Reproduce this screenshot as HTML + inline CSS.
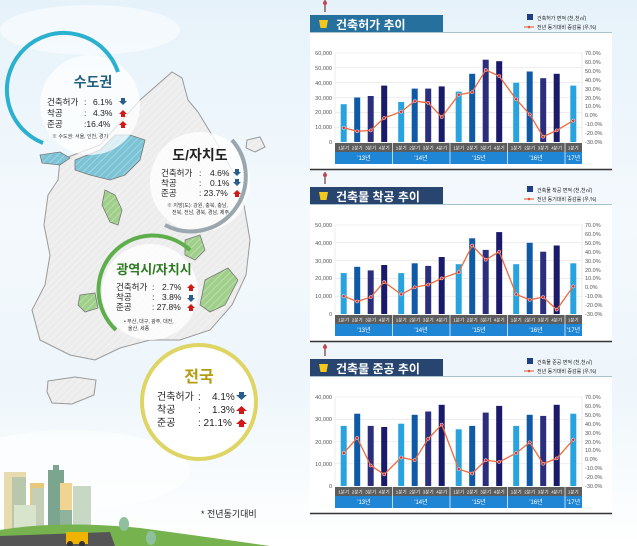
<!DOCTYPE html>
<html><head><meta charset="utf-8"><style>
*{margin:0;padding:0}
body{width:637px;height:546px;overflow:hidden;position:relative;background:linear-gradient(180deg,#e6f2fa 0%,#f4f9fd 40%,#eef6fb 70%,#ffffff 100%);font-family:"Liberation Sans","Noto Sans CJK KR",sans-serif}
svg{position:absolute}
text{font-family:"Liberation Sans","Noto Sans CJK KR",sans-serif}
</style></head><body>

<svg width="310" height="546" viewBox="0 0 310 546" style="left:0;top:0">
<defs>
<pattern id="hb" width="5" height="5" patternUnits="userSpaceOnUse" patternTransform="rotate(45)"><rect width="5" height="5" fill="#7cc3d6"/><line x1="0" y1="0" x2="0" y2="5" stroke="#a9dbe8" stroke-width="1.5"/></pattern>
<pattern id="hg" width="5" height="5" patternUnits="userSpaceOnUse" patternTransform="rotate(45)"><rect width="5" height="5" fill="#9fcf8a"/><line x1="0" y1="0" x2="0" y2="5" stroke="#c5e4b6" stroke-width="1.5"/></pattern>
<pattern id="hw" width="5" height="5" patternUnits="userSpaceOnUse" patternTransform="rotate(45)"><rect width="5" height="5" fill="#ececec"/><line x1="0" y1="0" x2="0" y2="5" stroke="#f6f6f6" stroke-width="1.5"/></pattern>
</defs>
<ellipse cx="90" cy="30" rx="90" ry="25" fill="#fff" opacity=".5"/>
<ellipse cx="70" cy="470" rx="120" ry="40" fill="#fff" opacity=".6"/>
<path d="M60,160 L100,145 L140,100 L172,72 L182,78 L188,100 L198,112 L215,140 L232,170 L244,205 L250,240 L246,275 L232,305 L210,330 L180,340 L150,340 L120,348 L95,360 L70,355 L40,340 L32,310 L45,285 L50,255 L44,225 L48,195 L58,180 Z" fill="url(#hw)" stroke="#999" stroke-width="1"/>
<path d="M75,160 L100,150 L115,135 L130,135 L145,140 L140,160 L125,175 L110,180 L90,175 L75,170 Z" fill="url(#hb)" stroke="#777" stroke-width=".8"/>
<path d="M40,155 L60,152 L70,158 L60,165 L42,163 Z" fill="url(#hb)" stroke="#777" stroke-width=".8"/>
<path d="M105,190 L115,195 L122,210 L118,225 L110,222 L102,205 Z" fill="url(#hg)" stroke="#777" stroke-width=".8"/>
<path d="M185,240 L200,235 L205,250 L195,260 L185,255 Z" fill="url(#hg)" stroke="#777" stroke-width=".8"/>
<path d="M80,295 L95,293 L98,308 L85,312 L78,305 Z" fill="url(#hg)" stroke="#777" stroke-width=".8"/>
<path d="M205,280 L228,268 L238,280 L225,305 L210,312 L200,305 Z" fill="url(#hg)" stroke="#777" stroke-width=".8"/>
<path d="M48,381 L75,377 L96,380 L94,395 L72,404 L52,403 L47,392 Z" fill="url(#hw)" stroke="#999"/>
<path d="M247,140 L260,137 L265,147 L255,152 L246,148 Z" fill="url(#hw)" stroke="#999"/>

<circle cx="90" cy="105" r="50" fill="#fff" opacity=".72"/>
<path d="M43,143 A57,57 0 1 1 118,72" fill="none" stroke="#2cb0cf" stroke-width="4"/>
<text x="93" y="87" font-size="14" font-weight="bold" fill="#23607e" text-anchor="middle">수도권</text>
<g font-size="8.5" fill="#222">
<text x="47" y="105">건축허가</text><text x="84" y="105">:</text><text x="93" y="105">6.1%</text>
<text x="47" y="116">착공</text><text x="84" y="116">:</text><text x="93" y="116">4.3%</text>
<text x="47" y="127">준공</text><text x="84" y="127">:16.4%</text>
</g>
<text x="52" y="138" font-size="5" fill="#333">※ 수도권: 서울, 인천, 경기</text>
<path d="M121,98 h4 v3 h2 l-4,4 l-4,-4 h2z" fill="#2a5d8c"/>
<path d="M121,117 h4 v-3 h2 l-4,-4 l-4,4 h2z" fill="#d01818"/>
<path d="M121,128 h4 v-3 h2 l-4,-4 l-4,4 h2z" fill="#d01818"/>

<circle cx="200" cy="182" r="50" fill="#fff" opacity=".8"/>
<path d="M232,140 A55,55 0 0 1 165,225" fill="none" stroke="#9aa7ae" stroke-width="4"/>
<text x="200" y="160" font-size="14" font-weight="bold" fill="#222" text-anchor="middle">도/자치도</text>
<g font-size="8.5" fill="#222">
<text x="161" y="176">건축허가</text><text x="199" y="176">:</text><text x="210" y="176">4.6%</text>
<text x="161" y="186">착공</text><text x="199" y="186">:</text><text x="210" y="186">0.1%</text>
<text x="161" y="196">준공</text><text x="199" y="196">: 23.7%</text>
</g>
<text x="167" y="207" font-size="5" fill="#333">※ 지방(도): 강원, 충북, 충남,</text>
<text x="172" y="214" font-size="5" fill="#333">전북, 전남, 경북, 경남, 제주</text>
<path d="M235,169 h4 v3 h2 l-4,4 l-4,-4 h2z" fill="#2a5d8c"/>
<path d="M235,179 h4 v3 h2 l-4,4 l-4,-4 h2z" fill="#2a5d8c"/>
<path d="M235,197 h4 v-3 h2 l-4,-4 l-4,4 h2z" fill="#d01818"/>

<circle cx="150" cy="292" r="48" fill="#fff" opacity=".8"/>
<path d="M116,330 A52,52 0 0 1 190,250" fill="none" stroke="#5fae4c" stroke-width="4"/>
<text x="154" y="274" font-size="13" font-weight="bold" fill="#2d7a22" text-anchor="middle">광역시/자치시</text>
<g font-size="8.5" fill="#222">
<text x="116" y="290">건축허가</text><text x="152" y="290">:</text><text x="162" y="290">2.7%</text>
<text x="116" y="300">착공</text><text x="152" y="300">:</text><text x="162" y="300">3.8%</text>
<text x="116" y="310">준공</text><text x="152" y="310">: 27.8%</text>
</g>
<text x="124" y="323" font-size="5" fill="#333">• 부산, 대구, 광주, 대전,</text>
<text x="128" y="330" font-size="5" fill="#333">울산, 세종</text>
<path d="M189,291 h4 v-3 h2 l-4,-4 l-4,4 h2z" fill="#d01818"/>
<path d="M189,295 h4 v3 h2 l-4,4 l-4,-4 h2z" fill="#2a5d8c"/>
<path d="M189,311 h4 v-3 h2 l-4,-4 l-4,4 h2z" fill="#d01818"/>

<circle cx="199" cy="402" r="57" fill="#fff" stroke="#ded564" stroke-width="4"/>
<text x="199" y="382" font-size="16" font-weight="bold" fill="#b59b12" text-anchor="middle">전국</text>
<g font-size="10" fill="#222">
<text x="157" y="400">건축허가</text><text x="198" y="400">:</text><text x="212" y="400">4.1%</text>
<text x="157" y="413">착공</text><text x="198" y="413">:</text><text x="212" y="413">1.3%</text>
<text x="157" y="426">준공</text><text x="198" y="426">: 21.1%</text>
</g>
<path d="M239,392 h5 v3 h3 l-5.5,5 l-5.5,-5 h3z" fill="#2a5d8c"/>
<path d="M239,414 h5 v-3 h3 l-5.5,-5 l-5.5,5 h3z" fill="#d01818"/>
<path d="M239,427 h5 v-3 h3 l-5.5,-5 l-5.5,5 h3z" fill="#d01818"/>

<text x="201" y="517" font-size="9" fill="#222">* 전년동기대비</text>

<rect x="4" y="472" width="22" height="60" fill="#e8dcae"/>
<rect x="12" y="477" width="14" height="55" fill="#b9c7ad"/>
<rect x="30" y="483" width="14" height="50" fill="#e6c97a"/>
<rect x="32" y="488" width="12" height="45" fill="#c5cfb8"/>
<rect x="48" y="470" width="16" height="63" fill="#7ca58f"/>
<rect x="53" y="465" width="6" height="6" fill="#7ca58f"/>
<rect x="60" y="483" width="12" height="50" fill="#f0d48f"/>
<rect x="73" y="486" width="18" height="46" fill="#c7d9c5"/>
<rect x="14" y="505" width="22" height="25" fill="#d9e4cd"/>
<rect x="60" y="510" width="12" height="22" fill="#8fb39b"/>
<path d="M0,546 L0,530 Q60,520 140,528 Q200,536 270,546 Z" fill="#76b24d"/>
<path d="M0,546 L0,536 L110,532 L115,546 Z" fill="#555"/>
<rect x="66" y="532" width="22" height="12" fill="#f0b400"/>
<circle cx="70" cy="544" r="3" fill="#333"/><circle cx="82" cy="544" r="3" fill="#333"/>
<ellipse cx="124" cy="524" rx="5" ry="7" fill="#8fbf9c"/>
<ellipse cx="151" cy="538" rx="5" ry="7" fill="#8fbf9c"/>
</svg>

<svg width="327" height="172" viewBox="0 0 327 172" style="left:310px;top:0">
<line x1="15" y1="0" x2="15" y2="12" stroke="#6a3b3b" stroke-width="1.2"/><circle cx="15" cy="3" r="2" fill="#c4474f"/>
<rect x="0" y="15" width="133" height="18" fill="#26709e"/>
<path d="M9,20 h9 l-1.5,8 h-6z" fill="#f3c81a"/>
<text x="26" y="29" font-size="12" font-weight="bold" fill="#fff">건축허가 추이</text>
<rect x="0" y="32" width="302" height="137" fill="#fff"/>
<line x1="0" y1="169.5" x2="302" y2="169.5" stroke="#333" stroke-width="1.5"/>
<line x1="0" y1="32.5" x2="302" y2="32.5" stroke="#a9c0d0" stroke-width="1"/>
<rect x="217" y="14" width="6" height="6" fill="#1c3f86"/><text x="227" y="20" font-size="5" fill="#222">건축허가 면적 (천,천㎡)</text>
<line x1="214" y1="27" x2="224" y2="27" stroke="#e8552c"/><circle cx="219" cy="27" r="1.3" fill="#e8552c"/><text x="227" y="29" font-size="5" fill="#222">전년 동기대비 증감률 (우,%)</text>
<g stroke="#e2e2e2" stroke-width=".6">
<line x1="25" y1="53" x2="272" y2="53"/><line x1="25" y1="67.8" x2="272" y2="67.8"/><line x1="25" y1="82.7" x2="272" y2="82.7"/><line x1="25" y1="97.5" x2="272" y2="97.5"/><line x1="25" y1="112.3" x2="272" y2="112.3"/><line x1="25" y1="127.2" x2="272" y2="127.2"/><line x1="25" y1="53" x2="25" y2="142"/><line x1="272" y1="53" x2="272" y2="142"/></g>
<g font-size="5.5" fill="#555" text-anchor="end">
<text x="22" y="55">60,000</text><text x="22" y="70">50,000</text><text x="22" y="85">40,000</text><text x="22" y="100">30,000</text><text x="22" y="114">20,000</text><text x="22" y="129">10,000</text><text x="22" y="144">0</text></g>
<g font-size="5.5" fill="#555">
<text x="275" y="55">70.0%</text><text x="275" y="64">60.0%</text><text x="275" y="73">50.0%</text><text x="275" y="82">40.0%</text><text x="275" y="91">30.0%</text><text x="275" y="100">20.0%</text><text x="275" y="108">10.0%</text><text x="275" y="117">0.0%</text><text x="275" y="126">-10.0%</text><text x="275" y="135">-20.0%</text><text x="275" y="144">-30.0%</text></g>
<g>
<rect x="30.7" y="104.2" width="6" height="37.8" fill="#29a3dd"/><rect x="44.2" y="97.5" width="6" height="44.5" fill="#0e5aa7"/><rect x="57.7" y="96" width="6" height="46" fill="#2a2e7c"/><rect x="71.2" y="85.6" width="6" height="56.4" fill="#1a1a6a"/>
<rect x="88.2" y="102" width="6" height="40" fill="#29a3dd"/><rect x="101.7" y="88.6" width="6" height="53.4" fill="#0e5aa7"/><rect x="115.2" y="88.6" width="6" height="53.4" fill="#2a2e7c"/><rect x="128.7" y="86.4" width="6" height="55.6" fill="#1a1a6a"/>
<rect x="145.7" y="91.6" width="6" height="50.4" fill="#29a3dd"/><rect x="159.2" y="73.8" width="6" height="68.2" fill="#0e5aa7"/><rect x="172.7" y="59.7" width="6" height="82.3" fill="#2a2e7c"/><rect x="186.2" y="61.2" width="6" height="80.8" fill="#1a1a6a"/>
<rect x="203.2" y="82.7" width="6" height="59.3" fill="#29a3dd"/><rect x="216.7" y="71.5" width="6" height="70.5" fill="#0e5aa7"/><rect x="230.2" y="78.2" width="6" height="63.8" fill="#2a2e7c"/><rect x="243.7" y="73.8" width="6" height="68.2" fill="#1a1a6a"/>
<rect x="260.3" y="85.6" width="6" height="56.4" fill="#29a3dd"/></g>
<polyline points="33.7,127.8 47.2,131.3 60.7,130.4 74.2,118 91.2,111.7 104.7,101.1 118.2,102.8 131.7,117.1 148.7,94.8 162.2,92.2 175.7,69.9 189.2,76.1 206.2,99.3 219.7,114.4 233.2,136.7 246.7,130.4 263.3,120.6" fill="none" stroke="#ef6a3a" stroke-width="1.3"/>
<g fill="#e02a2a" stroke="#fff" stroke-width=".5"><circle cx="33.7" cy="127.8" r="1.6"/><circle cx="47.2" cy="131.3" r="1.6"/><circle cx="60.7" cy="130.4" r="1.6"/><circle cx="74.2" cy="118" r="1.6"/><circle cx="91.2" cy="111.7" r="1.6"/><circle cx="104.7" cy="101.1" r="1.6"/><circle cx="118.2" cy="102.8" r="1.6"/><circle cx="131.7" cy="117.1" r="1.6"/><circle cx="148.7" cy="94.8" r="1.6"/><circle cx="162.2" cy="92.2" r="1.6"/><circle cx="175.7" cy="69.9" r="1.6"/><circle cx="189.2" cy="76.1" r="1.6"/><circle cx="206.2" cy="99.3" r="1.6"/><circle cx="219.7" cy="114.4" r="1.6"/><circle cx="233.2" cy="136.7" r="1.6"/><circle cx="246.7" cy="130.4" r="1.6"/><circle cx="263.3" cy="120.6" r="1.6"/></g>
<rect x="25" y="143" width="247" height="9" fill="#5d5d5d"/>
<rect x="25" y="152" width="247" height="12" fill="#1f86d6"/>
<g stroke="#fff" stroke-width=".7"><line x1="82.5" y1="143" x2="82.5" y2="164"/><line x1="140" y1="143" x2="140" y2="164"/><line x1="197.5" y1="143" x2="197.5" y2="164"/><line x1="255" y1="143" x2="255" y2="164"/></g>
<g font-size="4.5" fill="#fff" text-anchor="middle"><text x="33.7" y="149.5">1분기</text><text x="47.2" y="149.5">2분기</text><text x="60.7" y="149.5">3분기</text><text x="74.2" y="149.5">4분기</text><text x="91.2" y="149.5">1분기</text><text x="104.7" y="149.5">2분기</text><text x="118.2" y="149.5">3분기</text><text x="131.7" y="149.5">4분기</text><text x="148.7" y="149.5">1분기</text><text x="162.2" y="149.5">2분기</text><text x="175.7" y="149.5">3분기</text><text x="189.2" y="149.5">4분기</text><text x="206.2" y="149.5">1분기</text><text x="219.7" y="149.5">2분기</text><text x="233.2" y="149.5">3분기</text><text x="246.7" y="149.5">4분기</text><text x="263.3" y="149.5">1분기</text></g>
<g font-size="6" fill="#fff" text-anchor="middle"><text x="54" y="160">'13년</text><text x="111" y="160">'14년</text><text x="169" y="160">'15년</text><text x="226" y="160">'16년</text><text x="263.5" y="160">'17년</text></g>
</svg>

<svg width="327" height="172" viewBox="0 0 327 172" style="left:310px;top:172px">
<line x1="15" y1="0" x2="15" y2="12" stroke="#6a3b3b" stroke-width="1.2"/><circle cx="15" cy="3" r="2" fill="#c4474f"/>
<rect x="0" y="15" width="133" height="18" fill="#27456f"/>
<path d="M9,20 h9 l-1.5,8 h-6z" fill="#f3c81a"/>
<text x="26" y="29" font-size="12" font-weight="bold" fill="#fff">건축물 착공 추이</text>
<rect x="0" y="32" width="302" height="137" fill="#fff"/>
<line x1="0" y1="169.5" x2="302" y2="169.5" stroke="#333" stroke-width="1.5"/>
<line x1="0" y1="32.5" x2="302" y2="32.5" stroke="#a9c0d0" stroke-width="1"/>
<rect x="217" y="14" width="6" height="6" fill="#1c3f86"/><text x="227" y="20" font-size="5" fill="#222">건축물 착공 면적 (천,천㎡)</text>
<line x1="214" y1="27" x2="224" y2="27" stroke="#e8552c"/><circle cx="219" cy="27" r="1.3" fill="#e8552c"/><text x="227" y="29" font-size="5" fill="#222">전년 동기대비 증감률 (우,%)</text>
<g stroke="#e2e2e2" stroke-width=".6">
<line x1="25" y1="53" x2="272" y2="53"/><line x1="25" y1="70.8" x2="272" y2="70.8"/><line x1="25" y1="88.6" x2="272" y2="88.6"/><line x1="25" y1="106.4" x2="272" y2="106.4"/><line x1="25" y1="124.2" x2="272" y2="124.2"/><line x1="25" y1="53" x2="25" y2="142"/><line x1="272" y1="53" x2="272" y2="142"/></g>
<g font-size="5.5" fill="#555" text-anchor="end">
<text x="22" y="55">50,000</text><text x="22" y="73">40,000</text><text x="22" y="91">30,000</text><text x="22" y="108">20,000</text><text x="22" y="126">10,000</text><text x="22" y="144">0</text></g>
<g font-size="5.5" fill="#555">
<text x="275" y="55">70.0%</text><text x="275" y="64">60.0%</text><text x="275" y="73">50.0%</text><text x="275" y="82">40.0%</text><text x="275" y="91">30.0%</text><text x="275" y="100">20.0%</text><text x="275" y="108">10.0%</text><text x="275" y="117">0.0%</text><text x="275" y="126">-10.0%</text><text x="275" y="135">-20.0%</text><text x="275" y="144">-30.0%</text></g>
<g>
<rect x="30.7" y="101.1" width="6" height="40.9" fill="#29a3dd"/><rect x="44.2" y="94.8" width="6" height="47.2" fill="#0e5aa7"/><rect x="57.7" y="98.4" width="6" height="43.6" fill="#2a2e7c"/><rect x="71.2" y="93" width="6" height="49" fill="#1a1a6a"/>
<rect x="88.2" y="101.1" width="6" height="40.9" fill="#29a3dd"/><rect x="101.7" y="91.3" width="6" height="50.7" fill="#0e5aa7"/><rect x="115.2" y="93.9" width="6" height="48.1" fill="#2a2e7c"/><rect x="128.7" y="85" width="6" height="57" fill="#1a1a6a"/>
<rect x="145.7" y="92.2" width="6" height="49.8" fill="#29a3dd"/><rect x="159.2" y="66.3" width="6" height="75.7" fill="#0e5aa7"/><rect x="172.7" y="77.9" width="6" height="64.1" fill="#2a2e7c"/><rect x="186.2" y="60.1" width="6" height="81.9" fill="#1a1a6a"/>
<rect x="203.2" y="92.2" width="6" height="49.8" fill="#29a3dd"/><rect x="216.7" y="70.8" width="6" height="71.2" fill="#0e5aa7"/><rect x="230.2" y="79.7" width="6" height="62.3" fill="#2a2e7c"/><rect x="243.7" y="73.5" width="6" height="68.5" fill="#1a1a6a"/>
<rect x="260.3" y="91.3" width="6" height="50.7" fill="#29a3dd"/></g>
<polyline points="33.7,124.2 47.2,129.5 60.7,125.1 74.2,110 91.2,122.4 104.7,115.3 118.2,112.6 131.7,106.4 148.7,100.2 162.2,73.5 175.7,87.7 189.2,79.7 206.2,122.4 219.7,127.8 233.2,125.1 246.7,137.6 263.3,114.4" fill="none" stroke="#ef6a3a" stroke-width="1.3"/>
<g fill="#e02a2a" stroke="#fff" stroke-width=".5"><circle cx="33.7" cy="124.2" r="1.6"/><circle cx="47.2" cy="129.5" r="1.6"/><circle cx="60.7" cy="125.1" r="1.6"/><circle cx="74.2" cy="110" r="1.6"/><circle cx="91.2" cy="122.4" r="1.6"/><circle cx="104.7" cy="115.3" r="1.6"/><circle cx="118.2" cy="112.6" r="1.6"/><circle cx="131.7" cy="106.4" r="1.6"/><circle cx="148.7" cy="100.2" r="1.6"/><circle cx="162.2" cy="73.5" r="1.6"/><circle cx="175.7" cy="87.7" r="1.6"/><circle cx="189.2" cy="79.7" r="1.6"/><circle cx="206.2" cy="122.4" r="1.6"/><circle cx="219.7" cy="127.8" r="1.6"/><circle cx="233.2" cy="125.1" r="1.6"/><circle cx="246.7" cy="137.6" r="1.6"/><circle cx="263.3" cy="114.4" r="1.6"/></g>
<rect x="25" y="143" width="247" height="9" fill="#5d5d5d"/>
<rect x="25" y="152" width="247" height="12" fill="#1f86d6"/>
<g stroke="#fff" stroke-width=".7"><line x1="82.5" y1="143" x2="82.5" y2="164"/><line x1="140" y1="143" x2="140" y2="164"/><line x1="197.5" y1="143" x2="197.5" y2="164"/><line x1="255" y1="143" x2="255" y2="164"/></g>
<g font-size="4.5" fill="#fff" text-anchor="middle"><text x="33.7" y="149.5">1분기</text><text x="47.2" y="149.5">2분기</text><text x="60.7" y="149.5">3분기</text><text x="74.2" y="149.5">4분기</text><text x="91.2" y="149.5">1분기</text><text x="104.7" y="149.5">2분기</text><text x="118.2" y="149.5">3분기</text><text x="131.7" y="149.5">4분기</text><text x="148.7" y="149.5">1분기</text><text x="162.2" y="149.5">2분기</text><text x="175.7" y="149.5">3분기</text><text x="189.2" y="149.5">4분기</text><text x="206.2" y="149.5">1분기</text><text x="219.7" y="149.5">2분기</text><text x="233.2" y="149.5">3분기</text><text x="246.7" y="149.5">4분기</text><text x="263.3" y="149.5">1분기</text></g>
<g font-size="6" fill="#fff" text-anchor="middle"><text x="54" y="160">'13년</text><text x="111" y="160">'14년</text><text x="169" y="160">'15년</text><text x="226" y="160">'16년</text><text x="263.5" y="160">'17년</text></g>
</svg>

<svg width="327" height="172" viewBox="0 0 327 172" style="left:310px;top:344px">
<line x1="15" y1="0" x2="15" y2="12" stroke="#6a3b3b" stroke-width="1.2"/><circle cx="15" cy="3" r="2" fill="#c4474f"/>
<rect x="0" y="15" width="133" height="18" fill="#27456f"/>
<path d="M9,20 h9 l-1.5,8 h-6z" fill="#f3c81a"/>
<text x="26" y="29" font-size="12" font-weight="bold" fill="#fff">건축물 준공 추이</text>
<rect x="0" y="32" width="302" height="137" fill="#fff"/>
<line x1="0" y1="169.5" x2="302" y2="169.5" stroke="#333" stroke-width="1.5"/>
<line x1="0" y1="32.5" x2="302" y2="32.5" stroke="#a9c0d0" stroke-width="1"/>
<rect x="217" y="14" width="6" height="6" fill="#1c3f86"/><text x="227" y="20" font-size="5" fill="#222">건축물 준공 면적 (천,천㎡)</text>
<line x1="214" y1="27" x2="224" y2="27" stroke="#e8552c"/><circle cx="219" cy="27" r="1.3" fill="#e8552c"/><text x="227" y="29" font-size="5" fill="#222">전년 동기대비 증감률 (우,%)</text>
<g stroke="#e2e2e2" stroke-width=".6">
<line x1="25" y1="53" x2="272" y2="53"/><line x1="25" y1="75.3" x2="272" y2="75.3"/><line x1="25" y1="97.5" x2="272" y2="97.5"/><line x1="25" y1="119.8" x2="272" y2="119.8"/><line x1="25" y1="53" x2="25" y2="142"/><line x1="272" y1="53" x2="272" y2="142"/></g>
<g font-size="5.5" fill="#555" text-anchor="end">
<text x="22" y="55">40,000</text><text x="22" y="77">30,000</text><text x="22" y="100">20,000</text><text x="22" y="122">10,000</text><text x="22" y="144">0</text></g>
<g font-size="5.5" fill="#555">
<text x="275" y="55">70.0%</text><text x="275" y="64">60.0%</text><text x="275" y="73">50.0%</text><text x="275" y="82">40.0%</text><text x="275" y="91">30.0%</text><text x="275" y="100">20.0%</text><text x="275" y="108">10.0%</text><text x="275" y="117">0.0%</text><text x="275" y="126">-10.0%</text><text x="275" y="135">-20.0%</text><text x="275" y="144">-30.0%</text></g>
<g>
<rect x="30.7" y="81.9" width="6" height="60.1" fill="#29a3dd"/><rect x="44.2" y="69.7" width="6" height="72.3" fill="#0e5aa7"/><rect x="57.7" y="81.9" width="6" height="60.1" fill="#2a2e7c"/><rect x="71.2" y="83" width="6" height="59" fill="#1a1a6a"/>
<rect x="88.2" y="79.7" width="6" height="62.3" fill="#29a3dd"/><rect x="101.7" y="70.8" width="6" height="71.2" fill="#0e5aa7"/><rect x="115.2" y="67.5" width="6" height="74.5" fill="#2a2e7c"/><rect x="128.7" y="60.8" width="6" height="81.2" fill="#1a1a6a"/>
<rect x="145.7" y="85.3" width="6" height="56.7" fill="#29a3dd"/><rect x="159.2" y="81.9" width="6" height="60.1" fill="#0e5aa7"/><rect x="172.7" y="68.6" width="6" height="73.4" fill="#2a2e7c"/><rect x="186.2" y="61.9" width="6" height="80.1" fill="#1a1a6a"/>
<rect x="203.2" y="81.9" width="6" height="60.1" fill="#29a3dd"/><rect x="216.7" y="70.8" width="6" height="71.2" fill="#0e5aa7"/><rect x="230.2" y="71.9" width="6" height="70.1" fill="#2a2e7c"/><rect x="243.7" y="60.8" width="6" height="81.2" fill="#1a1a6a"/>
<rect x="260.3" y="69.7" width="6" height="72.3" fill="#29a3dd"/></g>
<polyline points="33.7,109.1 47.2,93.9 60.7,121.5 74.2,130.4 91.2,113.5 104.7,116.2 118.2,94.8 131.7,80.6 148.7,125.1 162.2,129.5 175.7,116.2 189.2,118 206.2,109.1 219.7,98.4 233.2,119.7 246.7,114.4 263.3,95.7" fill="none" stroke="#ef6a3a" stroke-width="1.3"/>
<g fill="#e02a2a" stroke="#fff" stroke-width=".5"><circle cx="33.7" cy="109.1" r="1.6"/><circle cx="47.2" cy="93.9" r="1.6"/><circle cx="60.7" cy="121.5" r="1.6"/><circle cx="74.2" cy="130.4" r="1.6"/><circle cx="91.2" cy="113.5" r="1.6"/><circle cx="104.7" cy="116.2" r="1.6"/><circle cx="118.2" cy="94.8" r="1.6"/><circle cx="131.7" cy="80.6" r="1.6"/><circle cx="148.7" cy="125.1" r="1.6"/><circle cx="162.2" cy="129.5" r="1.6"/><circle cx="175.7" cy="116.2" r="1.6"/><circle cx="189.2" cy="118" r="1.6"/><circle cx="206.2" cy="109.1" r="1.6"/><circle cx="219.7" cy="98.4" r="1.6"/><circle cx="233.2" cy="119.7" r="1.6"/><circle cx="246.7" cy="114.4" r="1.6"/><circle cx="263.3" cy="95.7" r="1.6"/></g>
<rect x="25" y="143" width="247" height="9" fill="#5d5d5d"/>
<rect x="25" y="152" width="247" height="12" fill="#1f86d6"/>
<g stroke="#fff" stroke-width=".7"><line x1="82.5" y1="143" x2="82.5" y2="164"/><line x1="140" y1="143" x2="140" y2="164"/><line x1="197.5" y1="143" x2="197.5" y2="164"/><line x1="255" y1="143" x2="255" y2="164"/></g>
<g font-size="4.5" fill="#fff" text-anchor="middle"><text x="33.7" y="149.5">1분기</text><text x="47.2" y="149.5">2분기</text><text x="60.7" y="149.5">3분기</text><text x="74.2" y="149.5">4분기</text><text x="91.2" y="149.5">1분기</text><text x="104.7" y="149.5">2분기</text><text x="118.2" y="149.5">3분기</text><text x="131.7" y="149.5">4분기</text><text x="148.7" y="149.5">1분기</text><text x="162.2" y="149.5">2분기</text><text x="175.7" y="149.5">3분기</text><text x="189.2" y="149.5">4분기</text><text x="206.2" y="149.5">1분기</text><text x="219.7" y="149.5">2분기</text><text x="233.2" y="149.5">3분기</text><text x="246.7" y="149.5">4분기</text><text x="263.3" y="149.5">1분기</text></g>
<g font-size="6" fill="#fff" text-anchor="middle"><text x="54" y="160">'13년</text><text x="111" y="160">'14년</text><text x="169" y="160">'15년</text><text x="226" y="160">'16년</text><text x="263.5" y="160">'17년</text></g>
</svg>
</body></html>
